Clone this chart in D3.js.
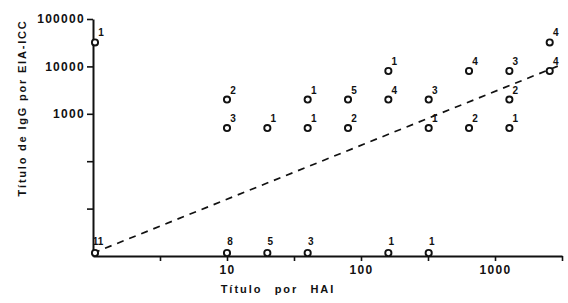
<!DOCTYPE html>
<html>
<head>
<meta charset="utf-8">
<script src="https://cdn.jsdelivr.net/npm/d3@7"></script>
<style>
  body { margin: 0; background: #fff; }
  text { font-family: "Liberation Sans", Arial, sans-serif; font-weight: bold; fill: #111; }
</style>
</head>
<body>
<svg id="chart" width="568" height="303"></svg>
<script>
// HAI titre (x), EIA-ICC IgG titre (y), number of sera at each point
var haiTitre = [1, 10, 10, 20, 40, 40, 80, 80, 160, 160, 320, 320, 640, 640, 1280, 1280, 1280, 2560, 2560,
                1, 10, 20, 40, 160, 320];
var eiaTitre = [32000, 2000, 500, 500, 2000, 500, 2000, 500, 8000, 2000, 2000, 500, 8000, 500, 8000, 2000, 500, 32000, 8000,
                1, 1, 1, 1, 1, 1];
var nSera    = [1, 2, 3, 1, 1, 1, 5, 2, 1, 4, 3, 1, 4, 2, 3, 2, 1, 4, 4,
                11, 8, 5, 3, 1, 1];

// dashed regression line ends
var fitX = [1, 3162];
var fitY = [1.15, 11000];

var xTicks = [3.162, 10, 31.62, 100, 316.2, 1000, 3162];
var xTickLabels = ["", "10", "", "100", "", "1000", ""];
var yTicks = [10, 100, 1000, 10000, 100000];
var yTickLabels = ["", "", "1000", "10000", "100000"];

var svg = d3.select("#chart");

var xScale = d3.scaleLog().domain([1, 3162]).range([93, 562]);
var yScale = d3.scaleLog().domain([1, 100000]).range([256, 19]);

//Axes
var xAxis = d3.axisBottom(xScale)
	.tickValues(xTicks)
	.tickFormat(function(d, i) { return xTickLabels[i]; })
	.tickSizeInner(5)
	.tickSizeOuter(0)
	.tickPadding(4);
var yAxis = d3.axisLeft(yScale)
	.tickValues(yTicks)
	.tickFormat(function(d, i) { return yTickLabels[i]; })
	.tickSizeInner(6)
	.tickSizeOuter(0)
	.tickPadding(2);

var gx = svg.append("g")
	.attr("transform", "translate(0," + yScale(1) + ")")
	.call(xAxis);
var gy = svg.append("g")
	.attr("transform", "translate(" + xScale(1) + ",0)")
	.call(yAxis);

[gx, gy].forEach(function(g) {
	g.select(".domain").attr("stroke", "#111").attr("stroke-width", 2);
	g.selectAll(".tick line").attr("stroke", "#111").attr("stroke-width", 1.6);
	g.selectAll(".tick text")
		.style("font-size", "12px")
		.style("letter-spacing", "1.3px")
		.style("font-family", "Liberation Sans, Arial, sans-serif")
		.style("font-weight", "bold")
		.attr("fill", "#111");
});

//Dashed line
svg.append("path")
	.datum(d3.zip(fitX, fitY))
	.attr("d", d3.line()
		.x(function(d) { return xScale(d[0]); })
		.y(function(d) { return yScale(d[1]); }))
	.attr("fill", "none")
	.attr("stroke", "#111")
	.attr("stroke-width", 1.7)
	.attr("stroke-dasharray", "7,6");

//Points
var pts = d3.range(haiTitre.length).map(function(i) {
	return { x: haiTitre[i], y: eiaTitre[i], n: nSera[i] };
});

svg.selectAll("circle.pt")
	.data(pts)
	.enter()
	.append("circle")
	.attr("class", "pt")
	.attr("cx", function(d) { return xScale(d.x) + (d.x == 1 ? 2 : 0); })
	.attr("cy", function(d) { return yScale(d.y) - (d.y == 1 ? 3 : 0); })
	.attr("r", 3.1)
	.attr("fill", "#fff")
	.attr("stroke", "#111")
	.attr("stroke-width", 1.9);

svg.selectAll("text.count")
	.data(pts)
	.enter()
	.append("text")
	.attr("class", "count")
	.attr("x", function(d) { return xScale(d.x) + (d.y == 1 ? 3 : 6) + (d.x == 1 ? 2 : 0); })
	.attr("y", function(d) { return yScale(d.y) - (d.y == 1 ? 11 : 6); })
	.attr("text-anchor", "middle")
	.style("font-size", "10px")
	.text(function(d) { return d.n; });

//Axis titles
svg.append("text")
	.attr("transform", "translate(26,108) rotate(-90)")
	.attr("text-anchor", "middle")
	.style("font-size", "11px")
	.style("letter-spacing", "1.8px")
	.text("Título de IgG por EIA-ICC");

svg.append("text")
	.attr("x", 278)
	.attr("y", 293)
	.attr("text-anchor", "middle")
	.style("font-size", "11px")
	.style("letter-spacing", "2px")
	.style("word-spacing", "7px")
	.text("Título por HAI");
</script>
</body>
</html>
